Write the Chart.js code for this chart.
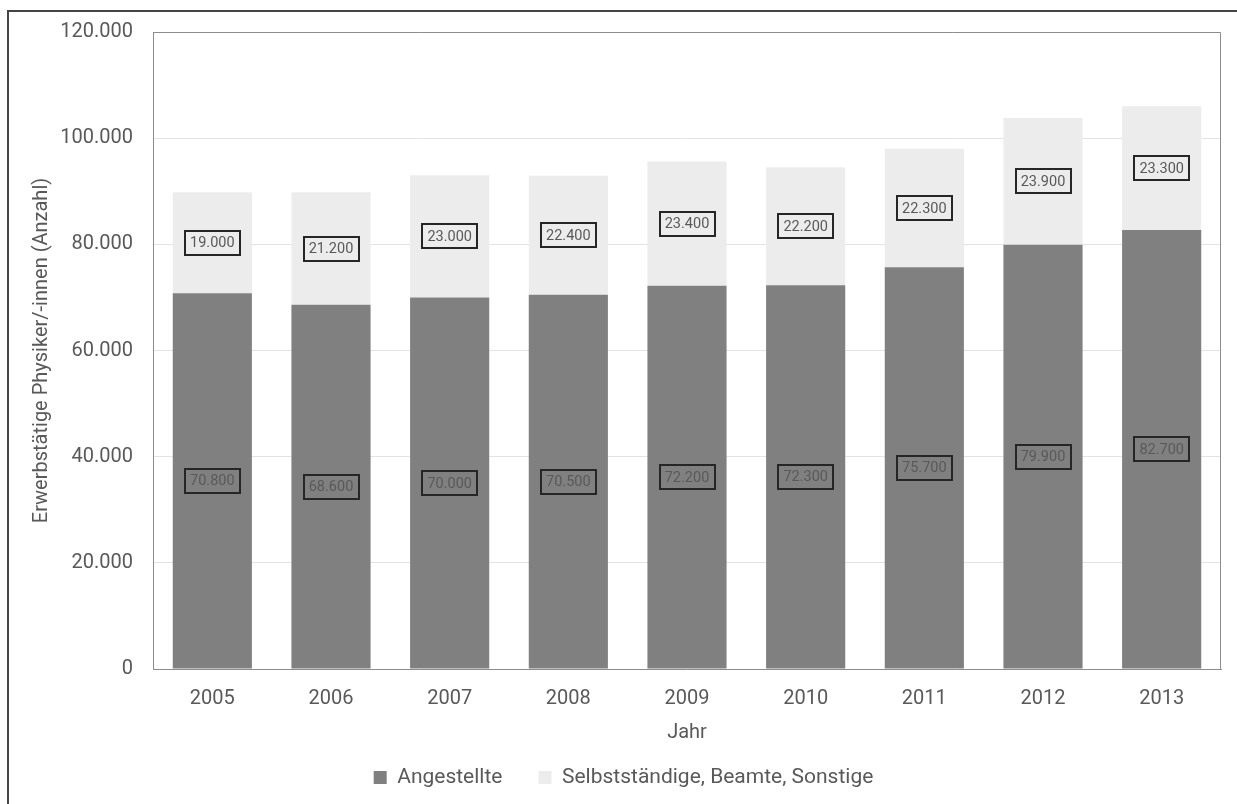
<!DOCTYPE html>
<html lang="de">
<head>
<meta charset="utf-8">
<title>Erwerbstätige Physiker/-innen</title>
<script src="https://cdn.jsdelivr.net/npm/chart.js@4/dist/chart.umd.min.js"></script>
<style>
  html, body { margin: 0; padding: 0; background: #fff; overflow: hidden; }
  #rahmen { position: absolute; left: 7px; top: 10px; width: 1300px; height: 900px;
            border-left: 2px solid #454545; border-top: 2px solid #454545; }
  #wrap { position: absolute; left: 0; top: 0; width: 1237px; height: 804px; }
</style>
</head>
<body>
<div id="rahmen"></div>
<div id="wrap"><canvas id="grafico"></canvas></div>
<script>
// Jahre und Anzahl erwerbstätiger Physiker/-innen
const jahre = ["2005", "2006", "2007", "2008", "2009", "2010", "2011", "2012", "2013"];
const angestellte = [70800, 68600, 70000, 70500, 72200, 72300, 75700, 79900, 82700];
const sonstige = [19000, 21200, 23000, 22400, 23400, 22200, 22300, 23900, 23300];
const yTicks = [0, 20000, 40000, 60000, 80000, 100000, 120000];

const grau = '#595959';

function fmt(v){
	return String(v).replace(/\B(?=(\d{3})+(?!\d))/g, '.');
}

// Rahmen um die Zeichenfläche + Werte in Kästchen
const beschriftung = {
	id: 'beschriftung',
	afterDatasetsDraw(chart){
		const ctx = chart.ctx;
		const a = chart.chartArea;
		ctx.save();
		ctx.strokeStyle = '#8c8c8c';
		ctx.lineWidth = 1;
		ctx.beginPath();
		ctx.moveTo(a.left + 0.5, a.bottom);
		ctx.lineTo(a.left + 0.5, a.top + 0.5);
		ctx.lineTo(a.right - 0.5, a.top + 0.5);
		ctx.lineTo(a.right - 0.5, a.bottom);
		ctx.stroke();

		ctx.font = '14.5px Roboto';
		ctx.textAlign = 'center';
		ctx.textBaseline = 'middle';
		chart.data.datasets.forEach((ds, i) => {
			const meta = chart.getDatasetMeta(i);
			meta.data.forEach((bar, j) => {
				const p = bar.getProps(['x', 'y', 'base'], true);
				const cy = (p.y + p.base) / 2;
				const txt = fmt(ds.data[j]);
				const w = ctx.measureText(txt).width + 10;
				const h = 24;
				ctx.lineWidth = 2;
				ctx.strokeStyle = '#262626';
				ctx.strokeRect(Math.round(p.x - w / 2), Math.round(cy - h / 2), Math.round(w), h);
				ctx.fillStyle = grau;
				ctx.fillText(txt, p.x, cy + 1);
			});
		});
		ctx.restore();
	}
};

new Chart(document.getElementById("grafico"), {
	type: 'bar',
	data: {
		labels: jahre,
		datasets: [{
			label: "Angestellte",
			data: angestellte,
			backgroundColor: "#808080",
			borderWidth: 0
		}, {
			label: "Selbstständige, Beamte, Sonstige",
			data: sonstige,
			backgroundColor: "#ececec",
			borderWidth: 0
		}]
	},
	options: {
		responsive: true,
		maintainAspectRatio: false,
		animation: false,
		layout: { padding: { left: 26, right: 16, top: 32, bottom: 6 } },
		datasets: { bar: { categoryPercentage: 1, barPercentage: 0.667 } },
		plugins: {
			legend: {
				position: 'bottom',
				labels: {
					color: grau,
					font: { family: 'Roboto', size: 21 },
					boxWidth: 13,
					boxHeight: 13,
					padding: 36
				}
			},
			tooltip: { enabled: false }
		},
		scales: {
			x: {
				stacked: true,
				afterFit: (scale) => { scale.height = 62; },
				grid: { display: false, drawTicks: false },
				border: { color: '#8c8c8c' },
				ticks: { color: grau, font: { family: 'Roboto', size: 20 }, padding: 18 },
				title: { display: true, text: 'Jahr', color: grau, font: { family: 'Roboto', size: 20 }, padding: { top: 0, bottom: -14 } }
			},
			y: {
				stacked: true,
				min: 0,
				max: 120000,
				afterBuildTicks: (scale) => { scale.ticks = yTicks.map(v => ({ value: v })); },
				afterFit: (scale) => { scale.width = 127; },
				grid: { color: '#e3e3e3', drawTicks: false },
				border: { color: '#8c8c8c' },
				ticks: { color: grau, font: { family: 'Roboto', size: 20 }, padding: 20, callback: (v) => fmt(v) },
				title: { display: true, text: 'Erwerbstätige Physiker/-innen (Anzahl)', color: grau, font: { family: 'Roboto', size: 20 } }
			}
		}
	},
	plugins: [beschriftung]
});
</script>
</body>
</html>
